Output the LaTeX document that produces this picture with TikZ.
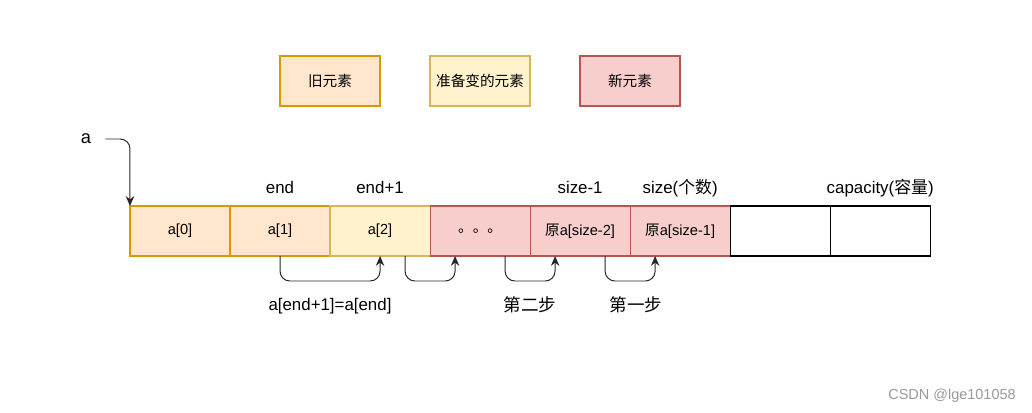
\documentclass[tikz,border=0pt]{standalone}
\usepackage{fontspec}
\setmainfont{Liberation Sans}
\newfontfamily\cjk{Noto Sans CJK SC}
\usetikzlibrary{positioning,arrows.meta}
\definecolor{oldfill}{HTML}{FFE6CC}
\definecolor{olddraw}{HTML}{D79B00}
\definecolor{prepfill}{HTML}{FFF2CC}
\definecolor{prepdraw}{HTML}{D6B656}
\definecolor{newfill}{HTML}{F8CECC}
\definecolor{newdraw}{HTML}{B85450}
\tikzset{
  cell/.style={draw,line width=0.8pt,minimum width=2.5cm,minimum height=1.25cm,inner sep=0pt,outer sep=0pt,font=\fontsize{10.4}{12}\selectfont},
  oldcell/.style={cell,fill=oldfill,draw=olddraw},
  prepcell/.style={cell,fill=prepfill,draw=prepdraw},
  newcell/.style={cell,fill=newfill,draw=newdraw},
  freecell/.style={cell,fill=white,draw=black},
  key/.style={font=\cjk\fontsize{10.4}{12}\selectfont},
  idx/.style={inner sep=0pt,text height=0.75em,text depth=0.25em,font=\fontsize{12}{14}\selectfont},
  note/.style={inner sep=0pt,font=\fontsize{12}{14}\selectfont},
  link/.style={line width=0.7pt,draw=black!85,rounded corners=7pt,-{Stealth[length=7pt,width=6pt]}},
}
\begin{document}
\begin{tikzpicture}[x=0.025cm,y=-0.025cm]
\useasboundingbox (0,0) rectangle (1032,413);
% legend
\node[oldcell,key] (kold) at (330,81) {旧元素};
\node[prepcell,key] (kprep) at (480,81) {准备变的元素};
\node[newcell,key] (knew) at (630,81) {新元素};
% array cells
\node[oldcell] (c0) at (180,231) {a[0]};
\node[oldcell,right=0pt of c0] (c1) {a[1]};
\node[prepcell,right=0pt of c1] (c2) {a[2]};
\node[newcell,right=0pt of c2] (c3) {\cjk 。。。};
\node[newcell,right=0pt of c3] (c4) {{\cjk 原}a[size-2]};
\node[newcell,right=0pt of c4] (c5) {{\cjk 原}a[size-1]};
\node[freecell,right=0pt of c5] (c6) {};
\node[freecell,right=0pt of c6] (c7) {};
% index labels
\node[idx,above=6.2pt of c1] (lend) {end};
\node[idx,above=6.2pt of c2] (lnext) {end+1};
\node[idx,above=6.2pt of c4] (llast) {size-1};
\node[idx,above=6.2pt of c5] (lsize) {size({\cjk 个数})};
\node[idx,above=6.2pt of c7] (lcap) {capacity({\cjk 容量})};
% pointer a
\node[note,font=\fontsize{13}{15}\selectfont] (ptr) at (86,139) {a};
\draw[link] ([xshift=10pt]ptr.east) -| (c0.north west);
% moves
\draw[link] (c1.south) -- ++(0,25) -| (c2.south);
\draw[link] ([xshift=0.625cm]c2.south) -- ++(0,25) -| ([xshift=-0.625cm]c3.south);
\draw[link] ([xshift=0.625cm]c3.south) -- ++(0,25) -| ([xshift=-0.625cm]c4.south);
\draw[link] ([xshift=0.625cm]c4.south) -- ++(0,25) -| ([xshift=-0.625cm]c5.south);
\node[note] (lmove) at (330,306) {a[end+1]=a[end]};
\node[note,font=\cjk\fontsize{12.5}{14}\selectfont] (lstep2) at (530,305) {第二步};
\node[note,font=\cjk\fontsize{12.5}{14}\selectfont] (lstep1) at (636,305) {第一步};
% watermark
\node[note,text=black!40,font=\fontsize{10.3}{12}\selectfont] (mark) at (952,396) {CSDN @lge101058};
\end{tikzpicture}
\end{document}
